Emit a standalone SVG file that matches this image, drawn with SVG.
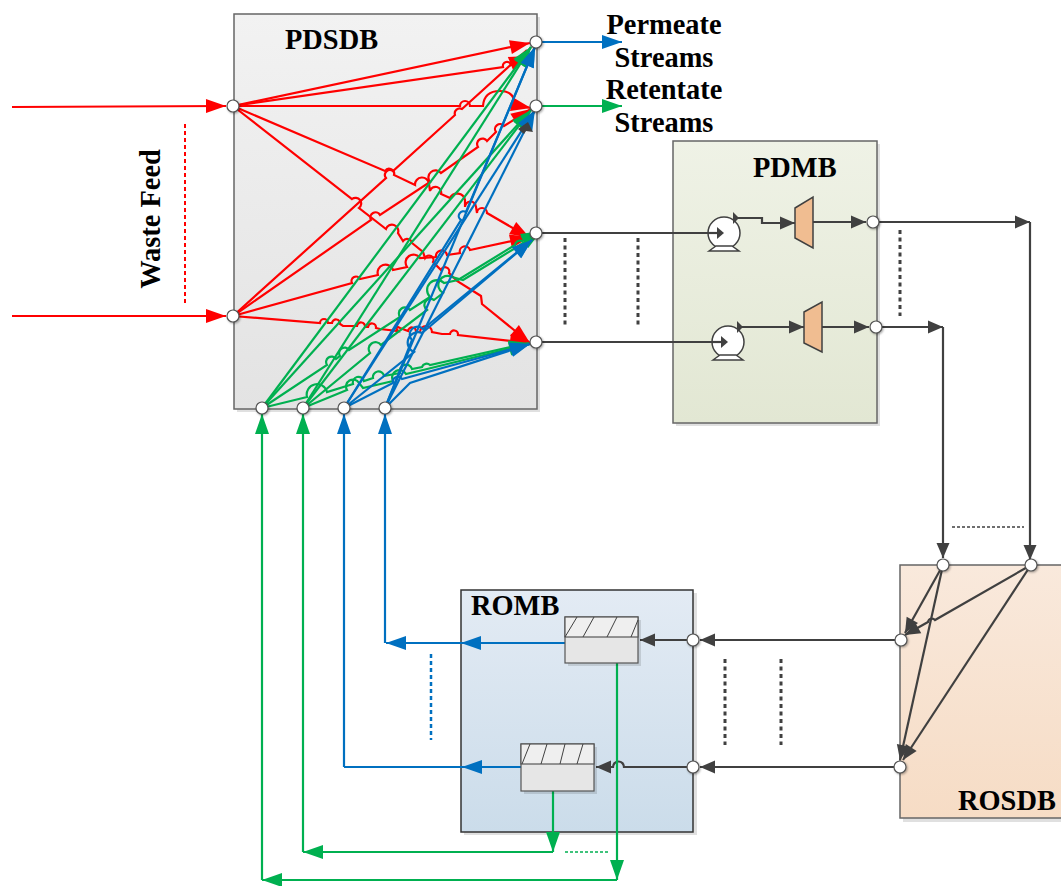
<svg xmlns="http://www.w3.org/2000/svg" width="1061" height="886" viewBox="0 0 1061 886">
<style>
.t{font-family:"Liberation Serif","Times New Roman",serif;font-weight:bold;font-size:28.4px;fill:#000}
.box{stroke:#666;stroke-width:1.5}
.sh{fill:#000;opacity:.12}
.r,.g,.b,.k{fill:none;stroke-width:2.2;stroke-linejoin:miter}
.r{stroke:#f00;marker-end:url(#mr)}
.g{stroke:#00b050;marker-end:url(#mg)}
.b{stroke:#0070c0;marker-end:url(#mb)}
.k{stroke:#404040;marker-end:url(#mk)}
.n{marker-end:none}
.p{fill:#fff;stroke:#555;stroke-width:1.2;filter:drop-shadow(1px 1px 1px rgba(0,0,0,.35))}
.tr{fill:#f0bd91;stroke:#404040;stroke-width:1.5}
.pm{fill:#fff;stroke:#404040;stroke-width:1.5}
.f1{fill:#efefef;stroke:#555;stroke-width:1.2}
.f2{fill:#e6e6e6;stroke:#555;stroke-width:1.2}
.h{stroke:#404040;stroke-width:1;fill:none}
.dk{fill:none;stroke:#404040;stroke-width:3;stroke-dasharray:4 3.5}
</style>
<defs>
<linearGradient id="gg" x1="0" y1="0" x2="0" y2="1"><stop offset="0" stop-color="#f2f2f2"/><stop offset="1" stop-color="#e3e3e3"/></linearGradient>
<linearGradient id="gm" x1="0" y1="0" x2="0" y2="1"><stop offset="0" stop-color="#eff2e6"/><stop offset="1" stop-color="#e2e7d3"/></linearGradient>
<linearGradient id="gb" x1="0" y1="0" x2="0" y2="1"><stop offset="0" stop-color="#e3ebf4"/><stop offset="1" stop-color="#cbdcea"/></linearGradient>
<linearGradient id="go" x1="0" y1="0" x2="0" y2="1"><stop offset="0" stop-color="#f9e9dc"/><stop offset="1" stop-color="#f6dcc5"/></linearGradient>
<marker id="mr" markerUnits="userSpaceOnUse" markerWidth="24" markerHeight="16" refX="20" refY="7" orient="auto" overflow="visible"><path d="M0 0L20 7L0 14z" fill="#f00"/></marker>
<marker id="mg" markerUnits="userSpaceOnUse" markerWidth="24" markerHeight="16" refX="20" refY="7" orient="auto" overflow="visible"><path d="M0 0L20 7L0 14z" fill="#00b050"/></marker>
<marker id="mb" markerUnits="userSpaceOnUse" markerWidth="24" markerHeight="16" refX="20" refY="7" orient="auto" overflow="visible"><path d="M0 0L20 7L0 14z" fill="#0070c0"/></marker>
<marker id="mk" markerUnits="userSpaceOnUse" markerWidth="18" markerHeight="16" refX="15" refY="6.5" orient="auto" overflow="visible"><path d="M0 0L15 6.5L0 13z" fill="#404040"/></marker>
</defs>

<g id="PDSDB">
<rect class="sh" x="237" y="17" width="303" height="395"/>
<rect class="box" x="234" y="14" width="303" height="395" fill="url(#gg)"/>
<text class="t" x="285" y="49">PDSDB</text>
</g>
<g id="PDMB">
<rect class="sh" x="676" y="144" width="204" height="282"/>
<rect class="box" x="673" y="141" width="204" height="282" fill="url(#gm)"/>
<text class="t" x="753" y="177">PDMB</text>
</g>
<g id="ROMB">
<rect class="sh" x="464" y="593" width="233" height="242"/>
<rect x="461" y="590" width="232" height="242" fill="url(#gb)" stroke="#333" stroke-width="1.5"/>
<text class="t" x="471" y="615">ROMB</text>
</g>
<g id="ROSDB">
<rect class="sh" x="903" y="568" width="165" height="254"/>
<rect class="box" x="900" y="565" width="170" height="253" fill="url(#go)"/>
<text class="t" x="958" y="810">ROSDB</text>
</g>

<g id="connectors">
<path class="r" d="M12 107L226 106"/>
<path class="r" d="M12 316L226 316"/>
<path class="r" d="M233 106L530 43"/>
<path class="r" d="M233 106L503 67A4 4 0 0 1 511 65L514 64A3 3 0 0 1 519 60L529 56"/>
<path class="r" d="M233 106H460A5 5 0 0 1 470 106H483Q484 91 500 91Q512 91 514 100L516 105L531 108"/>
<path class="r n" d="M233 316L386 178A5 5 0 0 1 393 171L455 115A5 5 0 0 1 462 109L527 50"/>
<path class="r" d="M233 106L385 171A5 5 0 0 1 394 175L415 185A7 7 0 0 1 429 184L430 191A5 5 0 0 1 441 194L450 198A8 8 0 0 1 465 200L465 207A5 5 0 0 1 476 207L477 213A5 5 0 0 1 487 213L530 238"/>
<path class="r" d="M233 316L371 220A5 5 0 0 1 380 215L430 182A5 5 0 0 1 441 173L478 147A5 5 0 0 1 487 141L496 132A4 4 0 0 1 504 126L531 109"/>
<path class="r" d="M233 106L352 199A5 5 0 0 1 359 208L386 229A5 5 0 0 1 398 233L403 241A5 5 0 0 1 412 243L423 252L425 258A4 4 0 0 1 433 262L441 270A4 4 0 0 1 449 273L457 281L481 296L482 304L530 343"/>
<path class="r" d="M233 316L352 283A4 4 0 0 1 360 279L378 275A7 7 0 0 1 393 270L407 267A7 7 0 0 1 420 258L436 257A5 5 0 0 1 447 255L460 253A5 5 0 0 1 470 250L530 237"/>
<path class="r" d="M233 316L320 323A4 4 0 0 1 328 323L332 323A4 4 0 0 1 340 324L343 326L357 326A4 4 0 0 1 365 327L368 327A4 4 0 0 1 376 328L380 329L398 331A8 8 0 0 1 396 326L400 328L408 331A4 4 0 0 1 416 332L420 332A6 6 0 0 1 432 332L442 334L450 334A4 4 0 0 1 458 335L530 343"/>

<path class="g" d="M262 408L531 47"/>
<path class="g" d="M303 408L531 47"/>
<path class="g" d="M262 408L531 110"/>
<path class="g" d="M303 408L531 110"/>
<path class="g" d="M262 408L327 365A5 5 0 0 1 336 359L340 356A5 5 0 0 1 349 350L400 317A5 5 0 0 1 410 310L430 297A6 6 0 0 1 444 283L458 280L515 245A5 5 0 0 1 522 241L541 231"/>
<path class="g" d="M307 405L370 353A5 5 0 0 1 381 345L427 310A5 5 0 0 1 434 300L443 293A7 7 0 0 1 452 277L463 280L517 247L541 231"/>
<path class="g" d="M262 408L307 397A10 10 0 0 1 327 392L353 384A5 5 0 0 1 364 381L373 378A5 5 0 0 1 384 376L400 373A6 6 0 0 1 412 369L422 367A5 5 0 0 1 430 365L529 343"/>
<path class="g" d="M303 408L347 390A6 6 0 0 1 359 383L363 388L393 381A6 6 0 0 1 406 374L423 370L529 344"/>

<path class="b" d="M344 408L461 220A4 4 0 0 1 466 212L535 47"/>
<path class="b" d="M385 408L535 47"/>
<path class="b" d="M344 408L535 110"/>
<path class="b" d="M385 408L535 110"/>
<path class="b" d="M344 408L414 352A5 5 0 0 1 422 333L532 240"/>
<path class="b" d="M385 408L412 340A5 5 0 0 1 423 329L532 240"/>
<path class="b" d="M344 408L393 383A5 5 0 0 1 402 379L490 355L530 344"/>
<path class="b" d="M385 408L410 383L530 344"/>
<polygon points="518,129 528,122 533,132 526,131 524,134" fill="#404040"/>

<path class="b" d="M536 42H622"/>
<path class="g" d="M536 106H622"/>
<path class="k n" d="M536 233H708"/>
<path class="k n" d="M536 342H712"/>
<path class="k" d="M733 218H762V223H795"/>
<path class="k" d="M737 327H804"/>
<path class="k" d="M813 222H866"/>
<path class="k" d="M822 327H869"/>
<path class="k" d="M873 222H1030"/>
<path class="k" d="M1030 222V560"/>
<path class="k" d="M876 327H943"/>
<path class="k" d="M943 327V558"/>
<path class="k" d="M943 565L905 633"/>
<path class="k" d="M943 565L900 760"/>
<path class="k" d="M1031 565L935 620A4 4 0 0 0 928 622L905 635"/>
<path class="k" d="M1031 565L903 760"/>
<path class="k" d="M900 640H700"/>
<path class="k" d="M693 640H640"/>
<path class="k" d="M900 767H700"/>
<path class="k" d="M693 767H624A5 5 0 0 0 613 767H596"/>
<path class="b" d="M565 643H461"/>
<path class="b" d="M461 643H386"/>
<path class="b" d="M385 643V414"/>
<path class="b" d="M521 767H462"/>
<path class="b n" d="M462 767H344"/>
<path class="b" d="M344 767V414"/>
<path class="g" d="M617 663V880"/>
<path class="g" d="M553 791V852"/>
<path class="g" d="M553 852H303"/>
<path class="g" d="M303 852V414"/>
<path class="g" d="M617 880H262"/>
<path class="g" d="M262 880V414"/>
</g>

<g id="dashes">
<path d="M185 124V305" fill="none" stroke="#f00" stroke-width="2" stroke-dasharray="4 3"/>
<path class="dk" d="M565 238V325M638 238V325M900 230V316M725 659V745M781 659V745"/>
<path d="M952 527H1024" fill="none" stroke="#404040" stroke-width="1.5" stroke-dasharray="3 2"/>
<path d="M431 654V740" fill="none" stroke="#0070c0" stroke-width="2.5" stroke-dasharray="4 3"/>
<path d="M565 852H608" fill="none" stroke="#00b050" stroke-width="1.5" stroke-dasharray="3 2"/>
</g>

<g id="pump1">
<circle class="pm" cx="724" cy="233" r="16"/>
<path class="pm" d="M709 251L716 246H732L739 251z"/>
<path d="M708 233H718" stroke="#404040" stroke-width="2.2" fill="none"/>
<path d="M717 227L724 233L717 239z" fill="#404040"/>
<path d="M733 212L739 218L733 224z" fill="#404040"/>
</g>
<g id="pump2">
<circle class="pm" cx="728" cy="342" r="16"/>
<path class="pm" d="M713 360L720 355H736L743 360z"/>
<path d="M712 342H722" stroke="#404040" stroke-width="2.2" fill="none"/>
<path d="M721 336L728 342L721 348z" fill="#404040"/>
<path d="M737 321L743 327L737 333z" fill="#404040"/>
</g>
<g id="trap1"><polygon class="tr" points="795,208 813,197 813,248 795,238"/></g>
<g id="trap2"><polygon class="tr" points="804,312 822,302 822,352 804,343"/></g>

<g id="filter1">
<rect class="sh" x="568" y="620" width="73" height="46"/>
<rect class="f2" x="565" y="617" width="73" height="46"/>
<rect class="f1" x="565" y="617" width="73" height="20"/>
<path class="h" d="M565 637L577 617M583 637L594 617M607 637L617 617M631 637L638 620"/>
</g>
<g id="filter2">
<rect class="sh" x="524" y="747" width="73" height="47"/>
<rect class="f2" x="521" y="744" width="73" height="47"/>
<rect class="f1" x="521" y="744" width="73" height="20"/>
<path class="h" d="M522 764L530 744M541 764L547 744M560 764L565 744M577 764L583 744"/>
</g>

<g id="ports">
<circle class="p" cx="233" cy="106" r="6"/>
<circle class="p" cx="233" cy="316" r="6"/>
<circle class="p" cx="536" cy="42" r="6"/>
<circle class="p" cx="536" cy="106" r="6"/>
<circle class="p" cx="536" cy="233" r="6"/>
<circle class="p" cx="536" cy="342" r="6"/>
<circle class="p" cx="262" cy="408" r="6"/>
<circle class="p" cx="303" cy="408" r="6"/>
<circle class="p" cx="344" cy="408" r="6"/>
<circle class="p" cx="385" cy="408" r="6"/>
<circle class="p" cx="873" cy="222" r="6"/>
<circle class="p" cx="876" cy="327" r="6"/>
<circle class="p" cx="943" cy="565" r="6"/>
<circle class="p" cx="1031" cy="565" r="6"/>
<circle class="p" cx="901" cy="640" r="6"/>
<circle class="p" cx="900" cy="767" r="6"/>
<circle class="p" cx="693" cy="640" r="6"/>
<circle class="p" cx="693" cy="767" r="6"/>
</g>

<g id="labels">
<text class="t" x="664" y="34" text-anchor="middle">Permeate</text>
<text class="t" x="664" y="67" text-anchor="middle">Streams</text>
<text class="t" x="664" y="99" text-anchor="middle">Retentate</text>
<text class="t" x="664" y="132" text-anchor="middle">Streams</text>
<text class="t" transform="translate(160 219) rotate(-90)" text-anchor="middle">Waste Feed</text>
</g>
</svg>
